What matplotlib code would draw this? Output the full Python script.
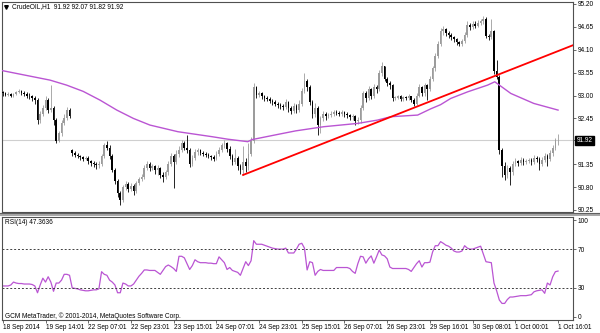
import numpy as np
import matplotlib.pyplot as plt
from matplotlib.patches import Rectangle
from matplotlib.lines import Line2D
import matplotlib.transforms as mtransforms

plt.rcParams['font.family'] = ['Liberation Sans', 'DejaVu Sans']

# hourly CrudeOIL bars, 18 Sep 2014 -> 1 Oct 2014 16:01
closes = [
    93.05, 93.02, 93.04, 93.00, 93.03, 93.08, 93.10, 93.06, 93.04, 93.00,
    92.98, 92.95, 92.90, 92.40, 92.55, 92.70, 92.90, 92.65, 92.70, 92.40,
    91.90, 92.10, 92.35, 92.45, 92.65, 92.50, 91.62, 91.58, 91.55, 91.52,
    91.48, 91.50, 91.42, 91.38, 91.36, 91.33, 91.35, 91.55, 91.80, 91.75,
    91.55, 91.20, 90.95, 90.65, 90.50, 90.80, 90.88, 90.75, 90.82, 90.70,
    90.90, 91.00, 91.05, 91.25, 91.35, 91.25, 91.30, 91.20, 91.25, 91.10,
    91.05, 91.15, 91.35, 91.55, 91.40, 91.60, 91.70, 91.85, 91.75, 91.70,
    91.35, 91.50, 91.65, 91.68, 91.62, 91.60, 91.58, 91.55, 91.52, 91.48,
    91.60, 91.70, 91.80, 91.85, 91.72, 91.55, 91.40, 91.50, 91.30, 91.20,
    91.40, 91.30, 91.60, 91.90, 93.20, 93.02, 93.05, 92.98, 92.95, 92.92,
    92.88, 92.85, 92.80, 92.78, 92.75, 92.72, 92.85, 92.70, 92.62, 92.75,
    92.65, 92.80, 93.10, 93.35, 93.20, 92.85, 92.55, 92.70, 92.30, 92.45,
    92.55, 92.50, 92.52, 92.55, 92.60, 92.58, 92.55, 92.60, 92.55, 92.52,
    92.48, 92.50, 92.38, 92.40, 92.70, 93.05, 92.95, 93.15, 93.00, 93.20,
    93.15, 93.55, 93.70, 93.40, 93.30, 93.25, 92.95, 92.95, 92.98, 92.92,
    92.96, 92.94, 92.98, 92.90, 92.80, 93.00, 93.20, 93.05, 93.25, 93.15,
    93.40, 93.65, 93.95, 94.25, 94.55, 94.60, 94.50, 94.45, 94.40, 94.35,
    94.28, 94.25, 94.30, 94.45, 94.70, 94.65, 94.72, 94.68, 94.75, 94.78,
    94.85, 94.42, 94.40, 94.55, 93.60, 93.45, 91.70, 91.30, 91.10, 91.25,
    91.15, 91.35, 91.42, 91.38, 91.45, 91.40, 91.42, 91.45, 91.40, 91.50,
    91.48, 91.35, 91.45, 91.55, 91.48, 91.62, 91.75, 91.92, 91.92,
]
highs = [
    93.12, 93.09, 93.08, 93.07, 93.07, 93.12, 93.15, 93.13, 93.10, 93.08,
    93.05, 93.02, 93.00, 92.95, 92.62, 92.78, 92.98, 92.95, 93.25, 92.75,
    92.45, 92.15, 92.40, 92.55, 92.72, 92.70, 91.72, 91.66, 91.62, 91.58,
    91.55, 91.55, 91.54, 91.45, 91.42, 91.40, 91.42, 91.60, 91.86, 91.90,
    91.80, 91.60, 91.25, 91.00, 90.70, 90.85, 90.95, 90.92, 90.90, 90.88,
    90.95, 91.05, 91.12, 91.32, 91.42, 91.40, 91.36, 91.34, 91.32, 91.28,
    91.15, 91.22, 91.42, 91.62, 91.60, 91.68, 91.78, 91.92, 91.90, 92.05,
    91.74, 91.58, 91.72, 91.74, 91.72, 91.67, 91.64, 91.62, 91.58, 91.56,
    91.66, 91.76, 91.87, 91.92, 91.88, 91.78, 91.60, 91.72, 91.55, 91.35,
    91.78, 91.50, 91.85, 92.00, 93.30, 93.22, 93.10, 93.08, 93.02, 92.99,
    92.96, 92.92, 92.89, 92.84, 92.82, 92.79, 92.92, 92.88, 92.74, 92.82,
    92.80, 92.90, 93.18, 93.54, 93.40, 93.25, 92.90, 92.82, 92.75, 92.50,
    92.62, 92.60, 92.58, 92.62, 92.66, 92.64, 92.62, 92.65, 92.63, 92.60,
    92.56, 92.55, 92.53, 92.48, 92.78, 93.12, 93.10, 93.22, 93.18, 93.28,
    93.25, 93.62, 93.80, 93.72, 93.45, 93.35, 93.28, 93.00, 93.02, 93.01,
    93.00, 92.99, 93.03, 93.00, 92.93, 93.06, 93.27, 93.24, 93.30, 93.28,
    93.48, 93.72, 94.02, 94.32, 94.62, 94.66, 94.63, 94.55, 94.50, 94.44,
    94.38, 94.32, 94.36, 94.52, 94.78, 94.75, 94.80, 94.78, 94.82, 94.84,
    94.90, 94.88, 94.48, 94.85, 94.58, 93.85, 93.50, 91.75, 91.40, 91.32,
    91.30, 91.42, 91.50, 91.46, 91.52, 91.49, 91.48, 91.51, 91.49, 91.58,
    91.55, 91.52, 91.52, 91.62, 91.60, 91.70, 91.82, 91.98, 92.07,
]
lows = [
    93.00, 92.98, 92.99, 92.96, 92.97, 93.01, 93.05, 93.02, 92.99, 92.95,
    92.92, 92.88, 92.80, 92.32, 92.35, 92.50, 92.65, 92.58, 92.60, 92.30,
    91.85, 91.88, 92.02, 92.30, 92.42, 92.45, 91.55, 91.52, 91.50, 91.46,
    91.42, 91.44, 91.36, 91.30, 91.28, 91.24, 91.26, 91.30, 91.50, 91.68,
    91.48, 91.15, 90.88, 90.55, 90.37, 90.45, 90.72, 90.68, 90.70, 90.62,
    90.66, 90.85, 90.95, 91.00, 91.20, 91.18, 91.20, 91.12, 91.10, 91.02,
    90.92, 91.00, 91.10, 91.30, 90.78, 91.35, 91.52, 91.65, 91.68, 91.62,
    91.28, 91.30, 91.45, 91.58, 91.56, 91.55, 91.52, 91.50, 91.46, 91.42,
    91.44, 91.55, 91.65, 91.74, 91.65, 91.48, 91.32, 91.35, 91.22, 91.12,
    91.09, 91.15, 91.22, 91.55, 91.85, 92.95, 92.96, 92.92, 92.88, 92.86,
    92.82, 92.78, 92.74, 92.71, 92.68, 92.64, 92.68, 92.60, 92.55, 92.58,
    92.58, 92.60, 92.75, 93.05, 93.10, 92.78, 92.45, 92.48, 92.05, 92.10,
    92.38, 92.42, 92.45, 92.48, 92.50, 92.52, 92.50, 92.50, 92.49, 92.46,
    92.42, 92.40, 92.30, 92.32, 92.35, 92.65, 92.85, 92.90, 92.92, 92.95,
    93.05, 93.10, 93.48, 93.35, 93.22, 93.15, 92.88, 92.90, 92.91, 92.87,
    92.88, 92.89, 92.90, 92.84, 92.75, 92.78, 92.96, 92.98, 93.00, 92.90,
    93.10, 93.35, 93.60, 93.90, 94.20, 94.45, 94.44, 94.38, 94.34, 94.28,
    94.22, 94.19, 94.20, 94.26, 94.40, 94.58, 94.60, 94.62, 94.64, 94.70,
    94.72, 94.38, 94.34, 94.36, 93.52, 93.40, 91.60, 91.05, 90.97, 91.02,
    90.85, 91.10, 91.30, 91.30, 91.33, 91.34, 91.35, 91.38, 91.34, 91.36,
    91.40, 91.21, 91.30, 91.40, 91.30, 91.42, 91.55, 91.70, 91.82,
]
first_open = 93.08
gap_opens = {26: 91.70}  # Monday open after the weekend gap

rsi = [
    32, 32, 32, 33, 36, 35, 34.5, 34.5, 34, 34,
    34, 33.5, 32, 25, 33, 40, 36, 41.5, 36, 26.5,
    35, 35, 38, 44, 44, 43, 30, 29.5, 29, 28,
    27.5, 27, 27, 27.5, 28, 28, 29, 46.7, 44, 43,
    38, 36, 33, 25, 25, 35, 34, 32, 32, 34,
    38, 42, 45, 48.5, 48.5, 48, 48, 48, 46, 44,
    48, 52, 53.6, 52, 50, 47, 62.6, 62.6, 61, 55,
    49, 53, 59, 57, 56, 56, 56, 55.5, 55.5, 55,
    55, 62, 59, 56, 49, 51, 48, 47, 46, 43,
    50, 57, 53, 58, 78.7, 75, 75, 75, 74, 73,
    72, 71, 70.5, 70, 70, 70, 71, 66, 66, 66,
    70, 75, 76, 71, 48.5, 57, 56, 43, 47, 49,
    48, 48, 48, 48, 48, 51, 51, 51, 51, 51,
    50, 47, 45, 55, 62.6, 62, 55.5, 60, 63, 55.5,
    62, 69, 64, 63, 60, 51.5, 50, 50, 50, 50,
    50, 50, 49, 47, 51, 55, 58, 51.5, 56, 56,
    56.5, 67, 73.5, 73.5, 77.7, 76, 74, 73, 71, 68,
    67, 67, 68, 73.5, 71, 70, 70, 71, 72, 73,
    65, 57, 56.5, 56, 35, 27, 17.5, 14, 14, 18,
    20.6, 20.6, 21, 21.5, 22, 22, 22, 22.5, 23, 26,
    27, 27.5, 28, 24.4, 35, 33, 41.5, 46.7, 47.36,
]

# moving average (bar index, price)
ma_idx = [-0.3, 8.3, 17.7, 23.9, 30.1, 36.4, 42.7, 48.9, 55.1, 65.6, 78.4,
          84.3, 91.8, 93.3, 103.4, 109.7, 120.2, 133, 140.4, 145.3, 155.4,
          160.3, 164, 167.8, 174.2, 181.6, 184.3, 190.3, 198.9, 208]
ma_val = [93.60, 93.49, 93.37, 93.25, 93.10, 92.89, 92.65, 92.45, 92.29, 92.13,
          92.01, 91.95, 91.89, 91.94, 92.07, 92.15, 92.25, 92.33, 92.41, 92.49,
          92.53, 92.68, 92.78, 92.93, 93.09, 93.25, 93.33, 93.05, 92.81, 92.65]

# trend line anchors
trend_idx = [90, 216]
trend_val = [91.09, 94.27]

tick_idx = list(range(0, 209, 16))
tick_labels = ['18 Sep 2014', '19 Sep 14:01', '22 Sep 07:01', '22 Sep 23:01',
               '23 Sep 15:01', '24 Sep 07:01', '24 Sep 23:01', '25 Sep 15:01',
               '26 Sep 07:01', '26 Sep 23:01', '29 Sep 16:01', '30 Sep 08:01',
               '1 Oct 00:01', '1 Oct 16:01']
price_ticks = [95.20, 94.65, 94.10, 93.55, 93.00, 92.45, 91.35, 90.80, 90.25]
last_price = 91.92

# open of each bar = previous close (except the weekend gap)
opens = [first_open] + closes[:-1]
for k, v in gap_opens.items():
    opens[k] = v

W, H = 600, 333
fig = plt.figure(figsize=(6, 3.33), dpi=100)
fig.patch.set_facecolor('white')

def box(x0, y0, x1, y1):
    return [x0 / W, 1 - y1 / H, (x1 - x0) / W, (y1 - y0) / H]

frame = '#505050'
fs = 4.7
bull = '#9c9c9c'

ax = fig.add_axes(box(2, 2, 573, 212))
rax = fig.add_axes(box(2, 217, 573, 320), sharex=ax)

# candles
idx = np.arange(len(closes))
o = np.array(opens); c = np.array(closes)
up = c >= o
cols = np.where(up, bull, 'black')
ax.vlines(idx, lows, highs, colors=cols, lw=0.6, zorder=2)
body = np.maximum(np.abs(c - o), 0.012)
ax.bar(idx, body, bottom=np.minimum(o, c), width=0.62, color=cols,
       linewidth=0, zorder=3)

ax.axhline(last_price, color='#cfcfcf', lw=0.8, zorder=1)
ax.plot(ma_idx, ma_val, color='#BA55D3', lw=1.0, zorder=4)
ax.plot(trend_idx, trend_val, color='#ff0000', lw=1.3, zorder=5)

ax.set_xlim(-0.3, 213.6)
ax.set_ylim(90.20, 95.20 + 2 / 41.6)
ax.yaxis.tick_right()
ax.set_yticks(price_ticks)
ax.set_yticklabels([f'{p:.2f}' for p in price_ticks])
ax.tick_params(axis='y', direction='out', length=2, width=0.6, colors=frame,
               labelsize=fs, labelcolor='black', pad=1.5)
ax.tick_params(axis='x', bottom=False, labelbottom=False)

# current price tag
trans = mtransforms.blended_transform_factory(ax.transAxes, ax.transData)
ax.text(1.006, last_price, f'{last_price:.2f}', transform=trans, ha='left',
        va='center', fontsize=fs, color='white', clip_on=False,
        bbox=dict(boxstyle='square,pad=0.2', fc='black', ec='black'))
ax.plot([1.0, 1.005], [last_price, last_price], transform=trans,
        color=frame, lw=0.6, clip_on=False)

# RSI panel
rax.plot(idx, rsi, color='#BA55D3', lw=0.9)
for lvl in (70, 30):
    rax.axhline(lvl, color='#404040', lw=0.7, ls=(0, (2, 2)))
rax.set_ylim(-3.1, 103.1)
rax.yaxis.tick_right()
rax.set_yticks([100, 70, 30, 0])
rax.tick_params(axis='y', direction='out', length=2, width=0.6, colors=frame,
                labelsize=fs, labelcolor='black', pad=1.5)
rax.set_xticks(tick_idx)
rax.set_xticklabels(tick_labels)
rax.tick_params(axis='x', direction='out', length=2.5, width=0.6, colors=frame,
                labelsize=fs, labelcolor='black', pad=0.5)
for lab in rax.get_xticklabels():
    lab.set_ha('left')

for a in (ax, rax):
    a.set_facecolor('white')
    for s in a.spines.values():
        s.set_color(frame)
        s.set_linewidth(0.8)

# panel separator
fig.patches.append(Rectangle((0, 1 - 216 / H), 1, 3 / H, transform=fig.transFigure,
                             facecolor='#a8a8a8', edgecolor='none'))
fig.add_artist(Line2D([0, 1], [1 - 212.5 / H] * 2, color='#606060', lw=0.8))

# texts
fig.add_artist(Line2D([6 / W], [1 - 6.5 / H], marker='v', ms=2.6, color='black',
                      transform=fig.transFigure))
fig.text(12 / W, 1 - 6.8 / H, 'CrudeOIL,H1  91.92 92.07 91.82 91.92',
         fontsize=fs, va='center', ha='left')
fig.text(5 / W, 1 - 222 / H, 'RSI(14) 47.3636', fontsize=fs, va='center', ha='left')
fig.text(5 / W, 1 - 316 / H, 'GCM MetaTrader, © 2001-2014, MetaQuotes Software Corp.',
         fontsize=fs, va='center', ha='left')

fig.savefig('out.png', dpi=100)
